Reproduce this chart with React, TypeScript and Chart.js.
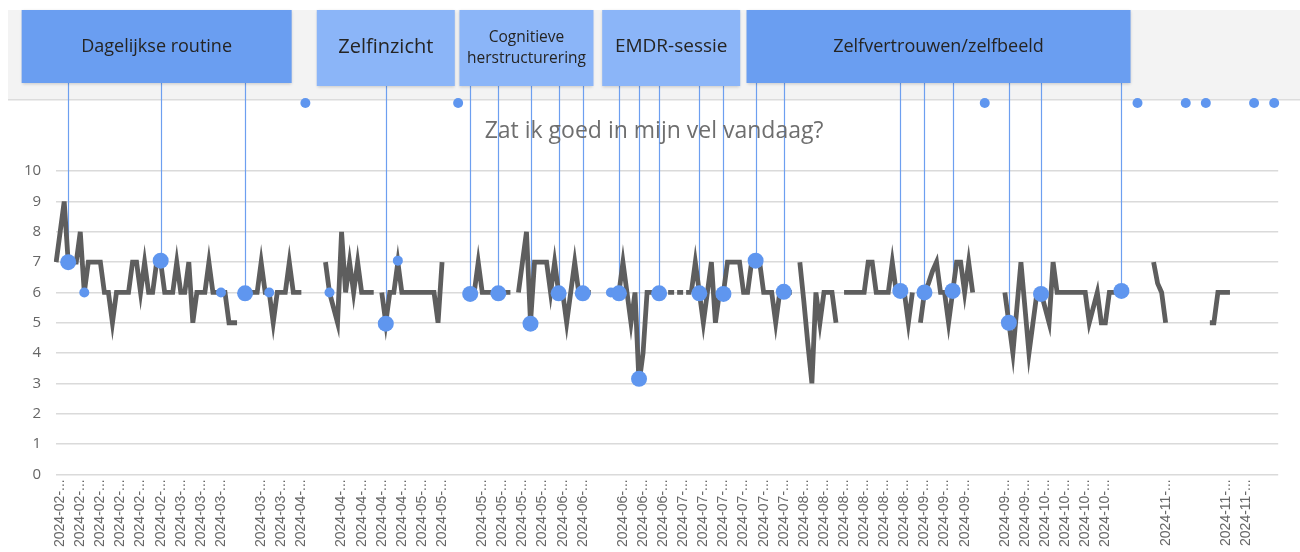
import React, { useEffect, useRef } from 'react';
import { Chart, registerables } from 'chart.js';

Chart.register(...registerables);

// ---------------- data ----------------
// One category per calendar day, starting 2024-01-31.
const FIRST_DAY_UTC = Date.UTC(2024, 0, 31);
const DAY_COUNT = 305;
const dayLabels: string[] = Array.from({ length: DAY_COUNT }, (_, i) =>
  new Date(FIRST_DAY_UTC + i * 86400000).toISOString().slice(0, 10)
);

// "Zat ik goed in mijn vel vandaag?" daily score (null = no entry)
const moodScores: (number | null)[] = [
  7, 8, 9, 7, 7, 7, 8, 6, 7, 7, // 0
  7, 7, 6, 6, 5, 6, 6, 6, 6, 7, // 10
  7, 6, 7, 6, 6, 7, 7, 6, 6, 6, // 20
  7, 6, 6, 7, 5, 6, 6, 6, 7, 6, // 30
  6, 6, 6, 5, 5, 5, null, 6, 6, 6, // 40
  6, 7, 6, 6, 5, 6, 6, 6, 7, 6, // 50
  6, 6, null, null, null, null, null, 7, 6, 5.5, // 60
  5, 8, 6, 7, 6, 7, 6, 6, 6, 6, // 70
  null, 6, 5, 6, 6, 7, 6, 6, 6, 6, // 80
  6, 6, 6, 6, 6, 5, 7, null, null, null, // 90
  null, null, null, 6, 6, 7, 6, 6, 6, 6, // 100
  6, 6, 6, 6, null, 6, 7, 8, 5, 7, // 110
  7, 7, 7, 6, 7, 6, 6, 5, 6, 7, // 120
  6, 6, 6, 6, null, null, null, null, 6, 6, // 130
  6, 7, 6, 5, 6, 3, 4, 6, 6, 6, // 140
  6, null, null, null, null, null, null, null, 6, 7, // 150
  6, 5, 6, 7, 5, 6, 6, 7, 7, 7, // 160
  7, 6, 6, 7, 7, 7, 6, 6, 6, 5, // 170
  6, 6, 6, 6, null, 7, 5.7, 4.3, 3, 6, // 180
  5, 6, 6, 6, 5, null, 6, 6, 6, 6, // 190
  6, 6, 7, 7, 6, 6, 6, 6, 7, 6, // 200
  6, 6, 5, 6, null, 5, 6, 6.3, 6.7, 7, // 210
  6, 6, 5, 6, 7, 7, 6, 7, 6, null, // 220
  null, null, null, null, null, null, 6, 5, 4, 5.5, // 230
  7, 5.5, 4, 5, 6, 6, 5.5, 5, 7, 6, // 240
  6, 6, 6, 6, 6, 6, 6, 5, 5.5, 6, // 250
  5, 5, 6, 6, 6, 6, null, null, null, null, // 260
  null, null, null, 7, 6.3, 6, 5, null, null, null, // 270
  null, null, null, null, null, null, null, 5, 5, 6, // 280
  6, 6, 6, null, null, null, null, null, null, null, // 290
  null, null, null, null, null, // 300
];

// stretch of the score line drawn dashed
const dashedDays = [150, 151, 152, 153, 154, 155, 156, 157, 158];
const dashedScores = [6, 6, 6, 6, 6, 6, 6, 6, 6];

// x tick labels: one slot every 5 days from day 1, some slots left empty
const TICK_FIRST_DAY = 1;
const TICK_EVERY = 5;
const TICK_LAST_SLOT = 59;
const hiddenTickSlots = [9, 13, 20, 27, 46, 53, 54, 56, 57];

// annotated events (large dots, connected to their topic banner)
const topics = [
  'Dagelijkse routine',
  'Zelfinzicht',
  'Cognitieve\nherstructurering',
  'EMDR-sessie',
  'Zelfvertrouwen/zelfbeeld',
];
const eventDays = [3, 26, 47, 82, 103, 110, 118, 125, 131, 140, 145, 150, 160, 166, 174, 181, 210, 216, 223, 237, 245, 265];
const eventScores = [7.0, 7.05, 5.97, 4.97, 5.95, 5.97, 4.97, 5.97, 5.97, 5.97, 3.15, 5.97, 5.97, 5.95, 7.05, 6.02, 6.05, 6.0, 6.05, 5.0, 5.95, 6.05];
const eventTopic = [0, 0, 0, 1, 2, 2, 2, 2, 2, 3, 3, 3, 3, 3, 4, 4, 4, 4, 4, 4, 4, 4];

// small dots on the line (notes without banner)
const noteDays = [7, 41, 53, 68, 85, 138];
const noteScores = [6, 6, 6, 6, 7.05, 6];

// entries without score, shown in the top row
const unscoredDays = [62, 100, 231, 269, 281, 286, 298, 303];
const UNSCORED_ROW = 12.25;

const yTicks = [0, 1, 2, 3, 4, 5, 6, 7, 8, 9, 10];

// ---------------- styles ----------------
const BLUE = '#5f96ef';
const LINE_BLUE = '#6d9ff0';
const BOX_WIDTHS = [270, 138, 134, 138, 384];
const BOX_HEIGHTS = [73, 76, 76, 76, 73];
const BOX_COLORS = ['#6a9ef1', '#8bb5f8', '#8bb5f8', '#8bb5f8', '#6a9ef1'];
const BOX_FONT = ['18px "Open Sans"', '20px "Open Sans"', '15.5px "Open Sans"', '19px "Open Sans"', '18px "Open Sans"'];

const toSeries = (days: number[], vals: number[]) => {
  const arr: (number | null)[] = new Array(DAY_COUNT).fill(null);
  days.forEach((d, j) => {
    arr[d] = vals[j];
  });
  return arr;
};

const bannerPlugin = {
  id: 'banner',
  beforeDraw(chart: any) {
    const ctx = chart.ctx;
    ctx.save();
    ctx.fillStyle = '#f3f3f3';
    ctx.fillRect(8, 10, chart.width - 8, 90);
    ctx.fillStyle = '#dcdcdc';
    ctx.fillRect(8, 99, chart.width - 8, 1.5);
    ctx.restore();
  },
  beforeDatasetsDraw(chart: any) {
    const ctx = chart.ctx;
    const xs = chart.scales.x;
    const ys = chart.scales.y;
    ctx.save();
    ctx.strokeStyle = LINE_BLUE;
    ctx.lineWidth = 1.2;
    eventDays.forEach((d, j) => {
      const x = Math.round(xs.getPixelForValue(d)) + 0.5;
      const y = ys.getPixelForValue(eventScores[j]);
      ctx.beginPath();
      ctx.moveTo(x, 12);
      ctx.lineTo(x, y);
      ctx.stroke();
    });
    ctx.restore();
  },
  afterDraw(chart: any) {
    const ctx = chart.ctx;
    const xs = chart.scales.x;
    ctx.save();
    topics.forEach((t, ti) => {
      const px = eventDays
        .filter((_, j) => eventTopic[j] === ti)
        .map((d) => xs.getPixelForValue(d));
      const cx = (Math.min(...px) + Math.max(...px)) / 2;
      const w = BOX_WIDTHS[ti];
      const h = BOX_HEIGHTS[ti];
      ctx.save();
      ctx.shadowColor = 'rgba(0,0,0,0.18)';
      ctx.shadowBlur = 3;
      ctx.shadowOffsetY = 1;
      ctx.fillStyle = BOX_COLORS[ti];
      ctx.fillRect(cx - w / 2, 10, w, h);
      ctx.restore();
      ctx.fillStyle = '#252423';
      ctx.font = BOX_FONT[ti];
      ctx.textAlign = 'center';
      ctx.textBaseline = 'middle';
      const lines = t.split('\n');
      if (lines.length === 1) {
        ctx.fillText(lines[0], cx, 47);
      } else {
        ctx.fillText(lines[0], cx, 38);
        ctx.fillText(lines[1], cx, 59);
      }
    });
    ctx.fillStyle = '#6e6e6e';
    ctx.font = '23px "Open Sans"';
    ctx.textAlign = 'center';
    ctx.textBaseline = 'middle';
    ctx.fillText('Zat ik goed in mijn vel vandaag?', chart.width / 2 + 4, 131);
    ctx.restore();
  },
};

export default function App() {
  const ref = useRef<HTMLCanvasElement | null>(null);

  useEffect(() => {
    if (!ref.current) return;
    const chart = new Chart(ref.current, {
      type: 'line',
      data: {
        labels: dayLabels,
        datasets: [
          {
            label: 'Gebeurtenis',
            data: toSeries(eventDays, eventScores),
            showLine: false,
            pointRadius: 8,
            pointHoverRadius: 8,
            pointBackgroundColor: BLUE,
            pointBorderWidth: 0,
            borderColor: BLUE,
            order: 0,
          },
          {
            label: 'Notitie',
            data: toSeries(noteDays, noteScores),
            showLine: false,
            pointRadius: 5,
            pointHoverRadius: 5,
            pointBackgroundColor: BLUE,
            pointBorderWidth: 0,
            borderColor: BLUE,
            order: 1,
          },
          {
            label: 'Zonder score',
            data: toSeries(unscoredDays, unscoredDays.map(() => UNSCORED_ROW)),
            showLine: false,
            pointRadius: 5,
            pointHoverRadius: 5,
            pointBackgroundColor: BLUE,
            pointBorderWidth: 0,
            borderColor: BLUE,
            clip: false as any,
            order: 1,
          },
          {
            label: 'Score',
            data: moodScores,
            borderColor: '#5e5e5e',
            borderWidth: 4.8,
            pointRadius: 0,
            spanGaps: false,
            tension: 0,
            order: 3,
          },
          {
            label: 'Score (gestippeld)',
            data: toSeries(dashedDays, dashedScores),
            borderColor: '#5e5e5e',
            borderWidth: 4.8,
            borderDash: [6, 3],
            pointRadius: 0,
            spanGaps: false,
            order: 3,
          },
        ],
      },
      options: {
        responsive: false,
        animation: false,
        devicePixelRatio: 1,
        events: [],
        layout: { padding: { top: 100, left: 9, right: 20, bottom: 0 } },
        plugins: {
          legend: { display: false },
          tooltip: { enabled: false },
          title: { display: false },
        },
        scales: {
          x: {
            grid: { display: false, drawTicks: false },
            border: { display: false },
            ticks: {
              autoSkip: false,
              maxRotation: 90,
              minRotation: 90,
              padding: 5,
              color: '#666666',
              font: { family: '"Liberation Sans", Arial', size: 14 },
              callback: (_v: any, i: number) => {
                const off = i - TICK_FIRST_DAY;
                if (off < 0 || off % TICK_EVERY !== 0) return '';
                const slot = off / TICK_EVERY;
                if (slot > TICK_LAST_SLOT || hiddenTickSlots.includes(slot)) return '';
                return dayLabels[i].slice(0, 8) + '...';
              },
            },
          },
          y: {
            min: 0,
            max: 12.35,
            afterBuildTicks: (scale: any) => {
              scale.ticks = yTicks.map((v) => ({ value: v }));
            },
            ticks: {
              padding: 15,
              color: '#666666',
              font: { family: '"Open Sans"', size: 15 },
            },
            grid: { color: '#dadada', lineWidth: 1.5, drawTicks: false },
            border: { display: false },
          },
        },
      },
      plugins: [bannerPlugin],
    });
    return () => chart.destroy();
  }, []);

  return (
    <div style={{ position: 'fixed', left: 0, top: 0, width: 1300, height: 552, background: '#ffffff' }}>
      <canvas ref={ref} width={1300} height={552} style={{ display: 'block' }} />
    </div>
  );
}
